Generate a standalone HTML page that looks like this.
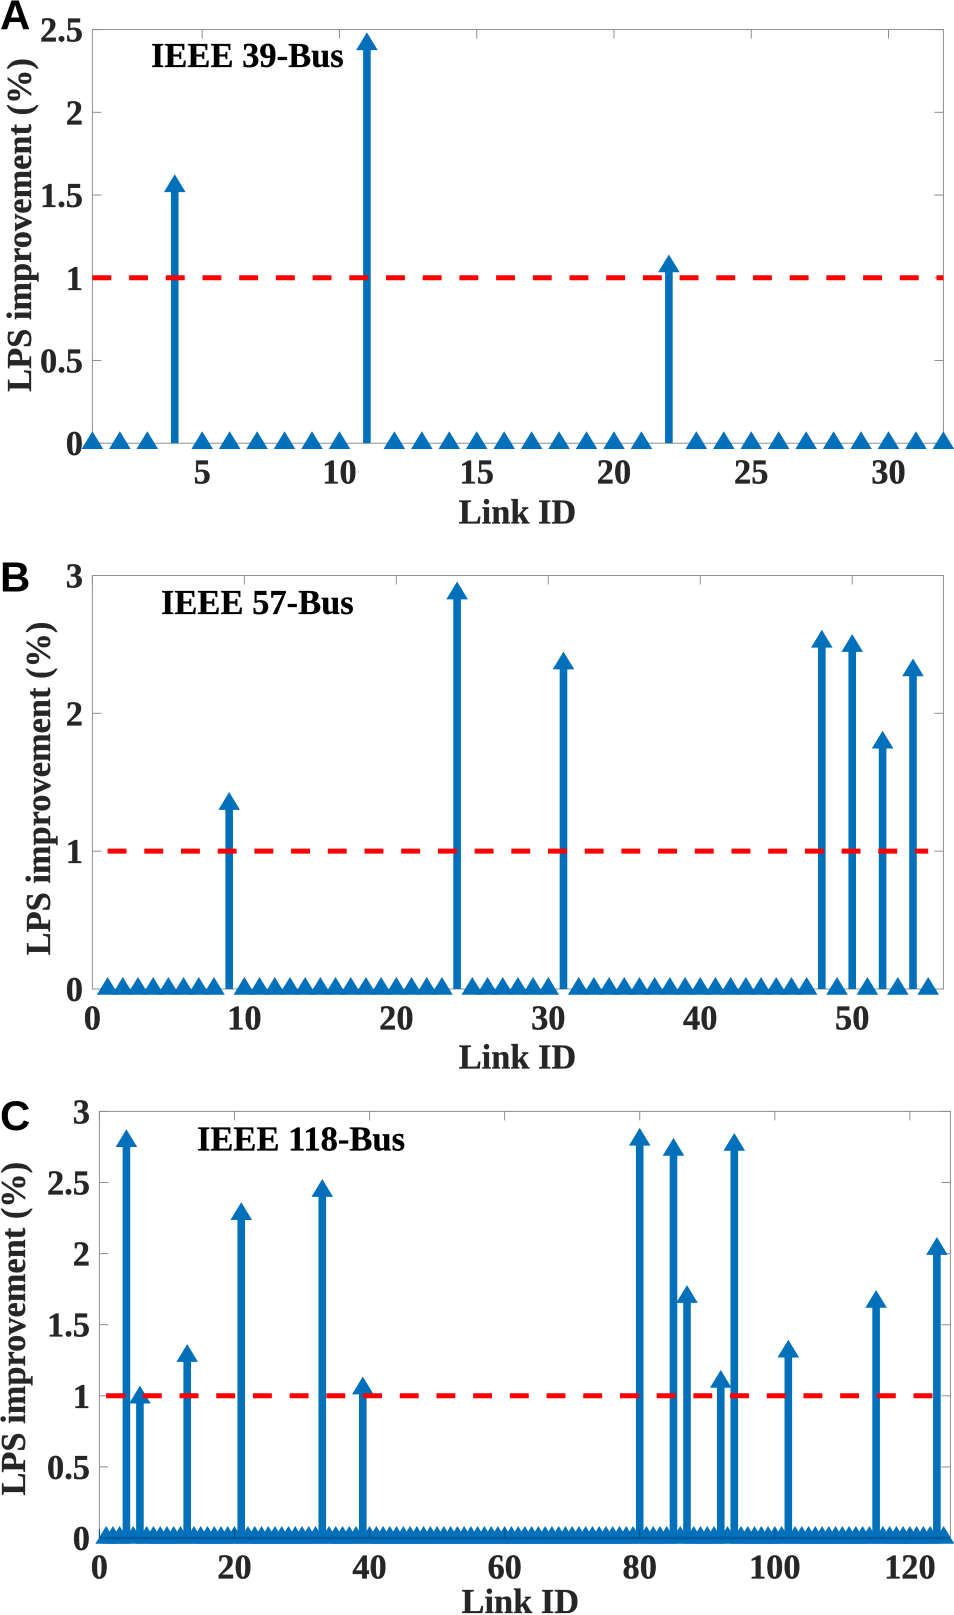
<!DOCTYPE html>
<html lang="en">
<head>
<meta charset="utf-8">
<title>LPS improvement by link ID</title>
<style>
html,body{margin:0;padding:0;background:#fff;width:954px;height:1615px;overflow:hidden}
svg{display:block}
.t{font-family:"Liberation Serif",serif;font-weight:700;font-size:34.4px;fill:#262626;stroke:#262626;stroke-width:.3px}
.n{font-family:"Liberation Serif",serif;font-weight:700;font-size:34.4px;fill:#262626;stroke:#262626;stroke-width:.35px}
.h{font-family:"Liberation Serif",serif;font-weight:700;font-size:34.5px;fill:#000;stroke:#000;stroke-width:.3px}
.l{font-family:"Liberation Sans",sans-serif;font-weight:700;font-size:42px;fill:#000}
</style>
</head>
<body>
<svg id="figure" xmlns="http://www.w3.org/2000/svg" width="954" height="1615" viewBox="0 0 954 1615">
  <rect x="0" y="0" width="954" height="1615" fill="#fff"/>
  <g id="plot-a"></g>
  <g id="plot-b"></g>
  <g id="plot-c"></g>

  <text class="l" x="0" y="29.3">A</text>
  <text class="h" x="151" y="67">IEEE 39-Bus</text>
  <text class="t" x="517.5" y="523.4" text-anchor="middle">Link ID</text>
  <text class="t" transform="translate(31 225) rotate(-90)" text-anchor="middle">LPS improvement (%)</text>

  <text class="l" x="0" y="591.7">B</text>
  <text class="h" x="161" y="614">IEEE 57-Bus</text>
  <text class="t" x="517.5" y="1068.6" text-anchor="middle">Link ID</text>
  <text class="t" transform="translate(50 788.5) rotate(-90)" text-anchor="middle">LPS improvement (%)</text>

  <text class="l" x="0" y="1130">C</text>
  <text class="h" x="197" y="1150.6">IEEE 118-Bus</text>
  <text class="t" x="520.3" y="1613" text-anchor="middle">Link ID</text>
  <text class="t" transform="translate(25 1328.7) rotate(-90)" text-anchor="middle">LPS improvement (%)</text>
</svg>

<script>
// Panel A: IEEE 39-Bus (values are for link IDs 1..32)
var valuesA = [
  0,0,0,1.553,0,0,0,0,0,0,
  2.411,0,0,0,0,0,0,0,0,0,
  0,1.068,0,0,0,0,0,0,0,0,
  0,0
];
var xTicksA = [5,10,15,20,25,30];
var yTicksA = [0,0.5,1,1.5,2,2.5];
var xLimitsA = [1,32];
var yLimitsA = [0,2.5];
var thresholdA = 1;

// Panel B: IEEE 57-Bus (values are for link IDs 1..55)
var valuesB = [
  0,0,0,0,0,0,0,0,1.342,0,
  0,0,0,0,0,0,0,0,0,0,
  0,0,0,2.869,0,0,0,0,0,0,
  2.361,0,0,0,0,0,0,0,0,0,
  0,0,0,0,0,0,0,2.519,0,2.488,
  0,1.787,0,2.311,0
];
var xTicksB = [0,10,20,30,40,50];
var yTicksB = [0,1,2,3];
var xLimitsB = [0,56];
var yLimitsB = [0,3];
var thresholdB = 1;

// Panel C: IEEE 118-Bus (values are for link IDs 1..125)
var valuesC = [
  0,0,0,2.790,0,0.987,0,0,0,0,
  0,0,1.279,0,0,0,0,0,0,0,
  2.277,0,0,0,0,0,0,0,0,0,
  0,0,2.440,0,0,0,0,0,1.051,0,
  0,0,0,0,0,0,0,0,0,0,
  0,0,0,0,0,0,0,0,0,0,
  0,0,0,0,0,0,0,0,0,0,
  0,0,0,0,0,0,0,0,0,2.800,
  0,0,0,0,2.729,0,1.694,0,0,0,
  0,1.097,0,2.764,0,0,0,0,0,0,
  0,1.310,0,0,0,0,0,0,0,0,
  0,0,0,0,1.660,0,0,0,0,0,
  0,0,0,2.032,0
];
var xTicksC = [0,20,40,60,80,100,120];
var yTicksC = [0,0.5,1,1.5,2,2.5,3];
var xLimitsC = [0,126];
var yLimitsC = [0,3];
var thresholdC = 1;

var SVG_NS = 'http://www.w3.org/2000/svg';
var BLUE = '#0070bb';
var AXIS = '#8f8f8f';

function mk(parent, tag, attrs) {
  var el = document.createElementNS(SVG_NS, tag);
  for (var k in attrs) { el.setAttribute(k, attrs[k]); }
  parent.appendChild(el);
  return el;
}

function drawPanel(cfg) {
  var g = document.getElementById(cfg.id);
  var p = cfg.prefix;
  function xs(v) { return cfg.left + (v - cfg.xLim[0]) * (cfg.right - cfg.left) / (cfg.xLim[1] - cfg.xLim[0]); }
  function ys(v) { return cfg.bottom - (v - cfg.yLim[0]) * (cfg.bottom - cfg.top) / (cfg.yLim[1] - cfg.yLim[0]); }

  var frame = mk(g, 'rect', {x: cfg.left, y: cfg.top, width: cfg.right - cfg.left, height: cfg.bottom - cfg.top, fill: 'none', stroke: AXIS, 'stroke-width': 1});
  
  

  cfg.xTicks.forEach(function (t) {
    var x = xs(t);
    var top = mk(g, 'line', {x1: x, x2: x, y1: cfg.top, y2: cfg.top + 9, stroke: AXIS, 'stroke-width': 1});
    
    
    var lab = mk(g, 'text', {x: x, y: cfg.xTickBaseline, 'text-anchor': 'middle', 'class': 'n'});
    
    
    lab.textContent = String(t);
  });

  cfg.yTicks.forEach(function (t) {
    var y = ys(t);
    var l = mk(g, 'line', {x1: cfg.left, x2: cfg.left + 9, y1: y, y2: y, stroke: AXIS, 'stroke-width': 1});
    
    
    var r = mk(g, 'line', {x1: cfg.right - 9, x2: cfg.right, y1: y, y2: y, stroke: AXIS, 'stroke-width': 1});
    
    
    var lab = mk(g, 'text', {x: cfg.yTickRight, y: y + 12, 'text-anchor': 'end', 'class': 'n'});
    
    
    lab.textContent = String(t);
  });

  cfg.values.forEach(function (v, i) {
    var x = xs(i + 1);
    if (v > 0) {
      var stem = mk(g, 'line', {x1: x, x2: x, y1: ys(0), y2: ys(v), stroke: BLUE, 'stroke-width': 7.6});
      
      
    }
  });

  cfg.values.forEach(function (v, i) {
    var x = xs(i + 1);
    var y = ys(v);
    var pts = x + ',' + (y - 12) + ' ' + (x - 10.8) + ',' + (y + 5.8) + ' ' + (x + 10.8) + ',' + (y + 5.8);
    var tri = mk(g, 'polygon', {points: pts, fill: BLUE});
    
    
  });

  if (cfg.darkBaseline) {
    var base = mk(g, 'line', {x1: xs(1) - 6, x2: xs(cfg.values.length) + 6, y1: ys(0), y2: ys(0), stroke: '#005c9e', 'stroke-width': 2.4});
    
    
    cfg.xTicks.forEach(function (t) {
      var tick = mk(g, 'line', {x1: xs(t), x2: xs(t), y1: ys(0) - 9, y2: ys(0), stroke: '#00508c', 'stroke-width': 1});
      
      
    });
  }

  var red = mk(g, 'line', {x1: xs(cfg.redFrom), x2: xs(cfg.redTo), y1: ys(cfg.threshold), y2: ys(cfg.threshold), stroke: '#ff0000', 'stroke-width': 5, 'stroke-dasharray': '18.9 17.8'});
  
  
}

drawPanel({id: 'plot-a', prefix: 'panel-a', values: valuesA, xTicks: xTicksA, yTicks: yTicksA, xLim: xLimitsA, yLim: yLimitsA, threshold: thresholdA,
  left: 92.4, right: 943.4, top: 29.6, bottom: 443.2, xTickBaseline: 483.5, yTickRight: 83, redFrom: 1, redTo: 32, darkBaseline: false});
drawPanel({id: 'plot-b', prefix: 'panel-b', values: valuesB, xTicks: xTicksB, yTicks: yTicksB, xLim: xLimitsB, yLim: yLimitsB, threshold: thresholdB,
  left: 92.4, right: 943.4, top: 575.5, bottom: 989, xTickBaseline: 1029.5, yTickRight: 83, redFrom: 1, redTo: 55, darkBaseline: false});
drawPanel({id: 'plot-c', prefix: 'panel-c', values: valuesC, xTicks: xTicksC, yTicks: yTicksC, xLim: xLimitsC, yLim: yLimitsC, threshold: thresholdC,
  left: 99.4, right: 950.4, top: 1111.4, bottom: 1538, xTickBaseline: 1578.5, yTickRight: 90, redFrom: 1, redTo: 125, darkBaseline: true});
</script>
</body>
</html>
